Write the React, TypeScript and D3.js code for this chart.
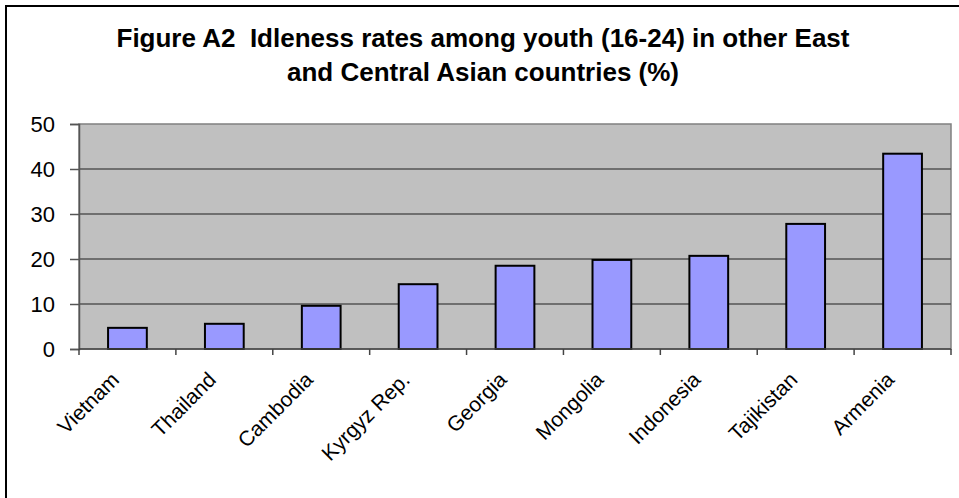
import React from 'react';
import * as d3 from 'd3';

const countries = ['Vietnam', 'Thailand', 'Cambodia', 'Kyrgyz Rep.', 'Georgia', 'Mongolia', 'Indonesia', 'Tajikistan', 'Armenia'];
const idleness = [4.7, 5.6, 9.6, 14.4, 18.5, 19.8, 20.7, 27.8, 43.4];
const yTicks = [0, 10, 20, 30, 40, 50];
const titleLines = ['Figure A2  Idleness rates among youth (16-24) in other East', 'and Central Asian countries (%)'];

const FONT = 'Arial, "Liberation Sans", sans-serif';

const App: React.FC = () => {
  const ref = React.useRef<SVGSVGElement>(null);

  React.useEffect(() => {
    const W = 959;
    const H = 498;
    const plot = { left: 79, top: 124, right: 951, bottom: 349 };

    const svg = d3.select(ref.current);
    svg.selectAll('*').remove();

    // outer frame (runs off the right/bottom edge like the original)
    svg
      .append('rect')
      .attr('x', 6)
      .attr('y', 6)
      .attr('width', W + 10)
      .attr('height', H + 10)
      .attr('fill', '#fff')
      .attr('stroke', '#000')
      .attr('stroke-width', 2);

    svg
      .append('g')
      .selectAll('text')
      .data(titleLines)
      .enter()
      .append('text')
      .attr('x', 483)
      .attr('y', (_d: string, i: number) => 47 + i * 34)
      .attr('text-anchor', 'middle')
      .style('font-family', FONT)
      .style('font-weight', 'bold')
      .style('font-size', '26px')
      .style('white-space', 'pre')
      .text((d: string) => d);

    const x = d3.scaleBand().domain(countries).range([plot.left, plot.right]).paddingInner(0.6).paddingOuter(0.3);
    const cat = d3.scaleBand().domain(countries).range([plot.left, plot.right]);
    const y = d3.scaleLinear().domain([0, 50]).range([plot.bottom, plot.top]);

    svg
      .append('rect')
      .attr('x', plot.left)
      .attr('y', plot.top)
      .attr('width', plot.right - plot.left)
      .attr('height', plot.bottom - plot.top)
      .attr('fill', '#c0c0c0')
      .attr('stroke', '#808080')
      .attr('stroke-width', 1.5);

    svg
      .append('g')
      .selectAll('line')
      .data(yTicks.filter((t) => t > 0 && t < 50))
      .enter()
      .append('line')
      .attr('x1', plot.left)
      .attr('x2', plot.right)
      .attr('y1', (d: number) => y(d))
      .attr('y2', (d: number) => y(d))
      .attr('stroke', '#555')
      .attr('stroke-width', 1.5);

    svg
      .append('g')
      .selectAll('rect')
      .data(idleness)
      .enter()
      .append('rect')
      .attr('x', (_d: number, i: number) => x(countries[i]) as number)
      .attr('y', (d: number) => y(d))
      .attr('width', x.bandwidth())
      .attr('height', (d: number) => y(0) - y(d))
      .attr('fill', '#9999ff')
      .attr('stroke', '#000')
      .attr('stroke-width', 2);

    // left axis
    const yAxis = svg
      .append('g')
      .attr('transform', `translate(${plot.left},0)`)
      .call(d3.axisLeft(y).tickValues(yTicks).tickSize(9).tickPadding(15));
    yAxis.select('.domain').attr('stroke', '#555').attr('stroke-width', 1.5);
    yAxis.selectAll('.tick line').attr('stroke', '#555').attr('stroke-width', 1.5);
    yAxis
      .selectAll('.tick text')
      .style('font-family', FONT)
      .style('font-size', '22px')
      .attr('fill', '#000');

    // bottom axis
    const xAxis = svg.append('g').attr('transform', `translate(0,${plot.bottom})`);
    xAxis
      .append('line')
      .attr('x1', plot.left)
      .attr('x2', plot.right)
      .attr('stroke', '#444')
      .attr('stroke-width', 1.5);
    xAxis
      .selectAll('.tk')
      .data([...countries.map((c) => cat(c) as number), plot.right])
      .enter()
      .append('line')
      .attr('x1', (d: number) => d)
      .attr('x2', (d: number) => d)
      .attr('y1', 0)
      .attr('y2', 6)
      .attr('stroke', '#444')
      .attr('stroke-width', 1.5);
    xAxis
      .selectAll('text')
      .data(countries)
      .enter()
      .append('text')
      .attr('transform', (d: string) => `translate(${(cat(d) as number) + cat.bandwidth() / 2 - 7},32) rotate(-45)`)
      .attr('text-anchor', 'end')
      .style('font-family', FONT)
      .style('font-size', '21px')
      .text((d: string) => d);
  }, []);

  return <svg ref={ref} width={959} height={498} style={{ display: 'block', position: 'absolute', left: 0, top: 0 }} />;
};

export default App;
